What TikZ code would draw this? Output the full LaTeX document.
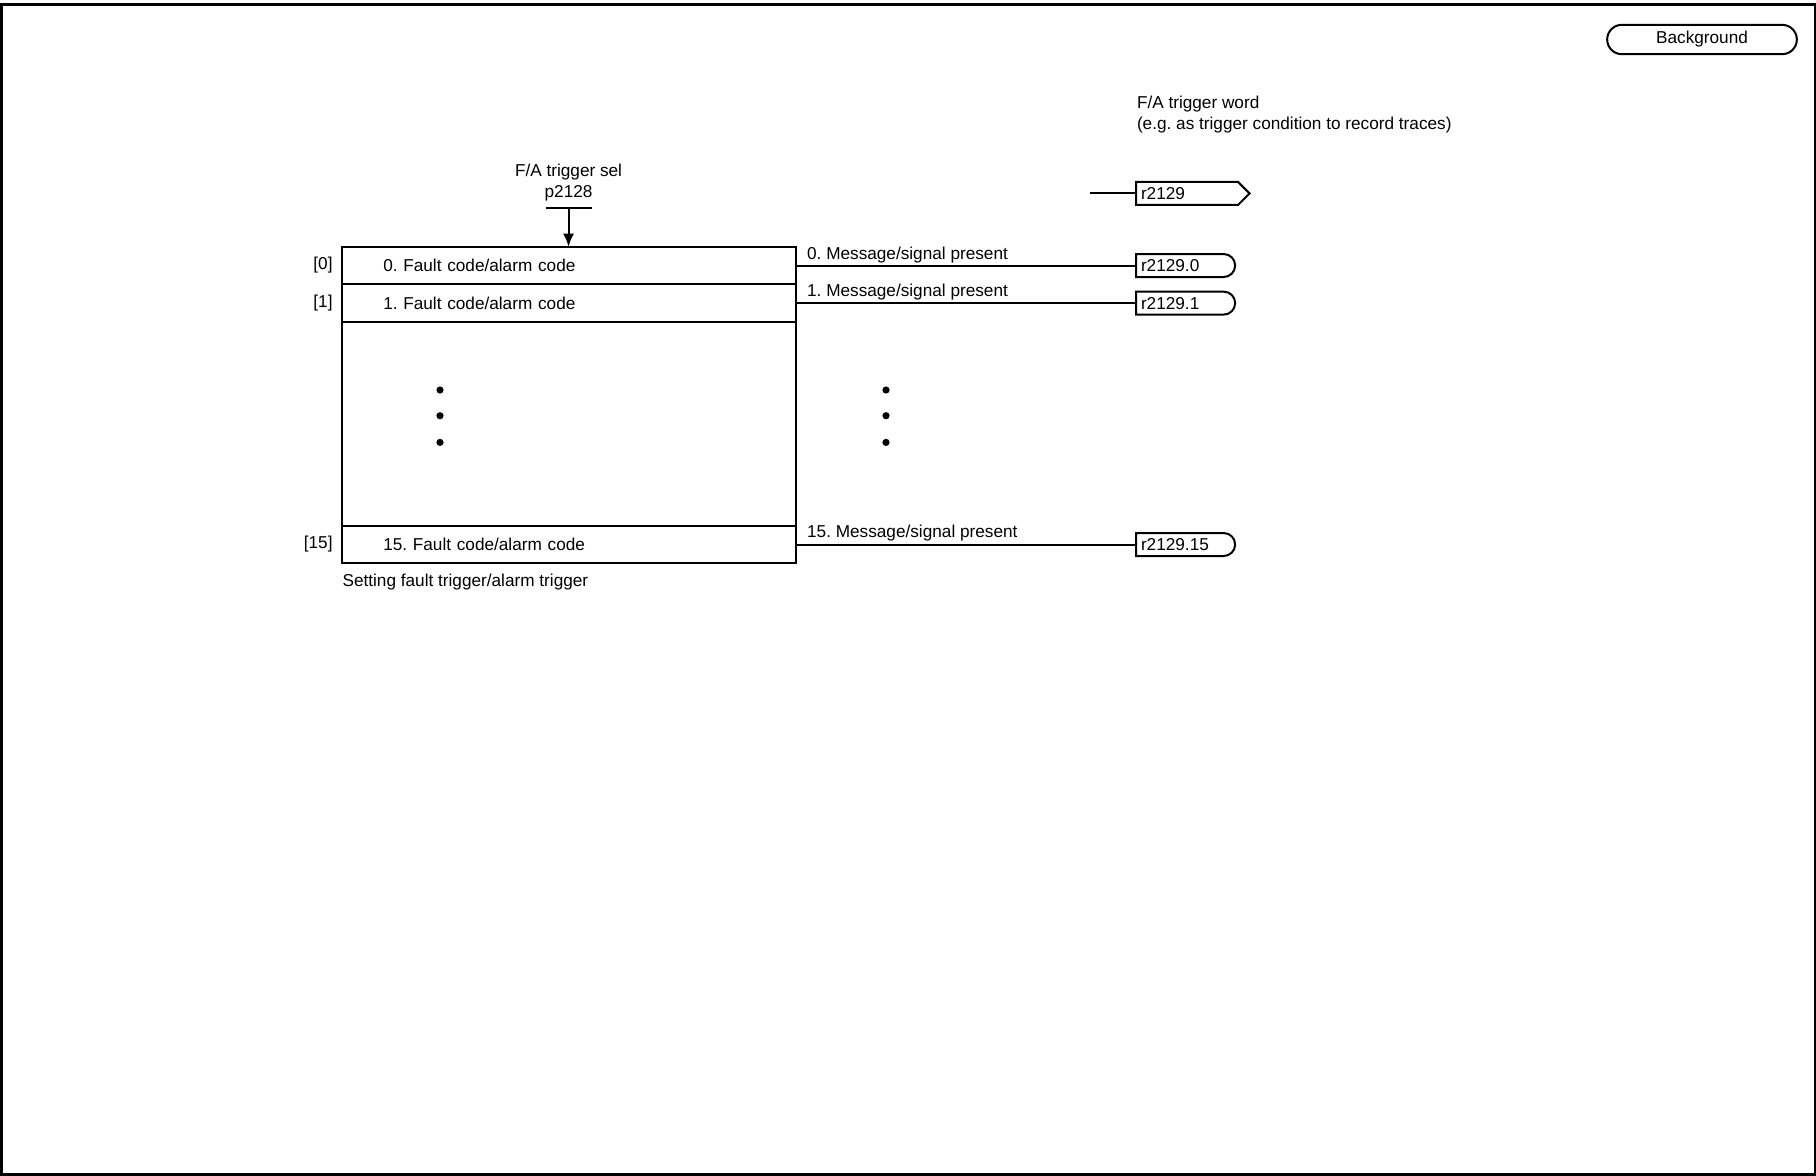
\documentclass[tikz,border=0pt]{standalone}
\usepackage{fontspec}
\setmainfont{Liberation Sans}
\usetikzlibrary{arrows.meta,positioning,shapes.misc,shapes.symbols}
\frenchspacing

\begin{document}
\begin{tikzpicture}[
    x=0.5pt, y=-0.5pt,
    font=\fontsize{8.6}{10.4}\selectfont,
    line width=1pt,
    row/.style={draw, outer sep=0pt, minimum width=227pt, minimum height=18.8pt,
                inner xsep=20.85pt, inner ysep=0pt, text width=185.3pt, align=left},
    gap/.style={draw, outer sep=0pt, minimum width=227pt, minimum height=101.9pt},
    idx/.style={inner sep=0pt},
    msg/.style={inner sep=0pt, anchor=base west},
    port/.style={draw, rounded rectangle, rounded rectangle west arc=none,
                 minimum height=11.5pt, inner xsep=2.5pt, inner ysep=0pt,
                 text width=43.7pt, align=left, anchor=west, outer sep=0pt},
    wordport/.style={draw, signal, signal to=east, signal pointer angle=90,
                 minimum height=11.5pt, inner xsep=2.5pt, inner ysep=0pt,
                 text width=46pt, align=left, anchor=west, outer sep=0pt},
    btn/.style={draw, rounded rectangle, minimum width=101.5pt, minimum height=13.5pt},
    flow/.style={-{Latex[length=6.5pt,width=5.5pt]}},
  ]
  \useasboundingbox (0,0) rectangle (1816,1175);

  % sheet frame
  \draw[line width=1.5pt] (1.5,4.7) rectangle (1815,1174.2);
  \node[btn] (bg) at (1702,39.5) {Background};

  % trigger table
  \node[row] (f0) at (568.55,265.5) {0. Fault code/alarm code};
  \node[row, below=0pt of f0] (f1) {1. Fault code/alarm code};
  \node[gap, below=0pt of f1] (fm) {};
  \node[row, below=0pt of fm] (f15) {15. Fault code/alarm code};

  \node[idx, left=4pt of f0] (i0) {[0]};
  \node[idx, left=4pt of f1] (i1) {[1]};
  \node[idx, left=4pt of f15] (i15) {[15]};

  \node[inner sep=0pt, below right=5pt and 0pt of f15.south west] (set)
    {Setting fault trigger/alarm trigger};

  % parameter input
  \coordinate (bar) at (568.55,208.4);
  \node[inner sep=0pt, align=center, above=3.2pt of bar] (sel) {F/A trigger sel\\p2128};
  \draw ([xshift=-11.5pt]bar) -- ([xshift=11.5pt]bar);
  \draw[flow] (bar) -- (f0);

  % dots
  \foreach \y in {390,415.7,442.4} {
    \fill (440,\y) circle (1.8pt);
    \fill (886,\y) circle (1.8pt);
  }

  % outputs
  \coordinate (portx) at (1136,0);
  \node[port] (o0) at (f0.east -| portx) {r2129.0};
  \node[port] (o1) at (f1.east -| portx) {r2129.1};
  \node[port] (o15) at (f15.east -| portx) {r2129.15};

  \draw (f0.east) -- (o0.west);
  \draw (f1.east) -- (o1.west);
  \draw (f15.east) -- (o15.west);

  \node[msg] (m0) at ([xshift=5.3pt,yshift=3.1pt]f0.east) {0. Message/signal present};
  \node[msg] (m1) at ([xshift=5.3pt,yshift=3.3pt]f1.east) {1. Message/signal present};
  \node[msg] (m15) at ([xshift=5.3pt,yshift=3.3pt]f15.east) {15. Message/signal present};

  % trigger word
  \node[inner sep=0pt, align=left, anchor=north west] (wtxt) at (1136,95)
    {F/A trigger word\\(e.g. as trigger condition to record traces)};
  \coordinate (win) at (1089.7,193.4);
  \node[wordport] (w) at (1136,193.4) {r2129};
  \draw (win) -- (w.west);
\end{tikzpicture}
\end{document}
